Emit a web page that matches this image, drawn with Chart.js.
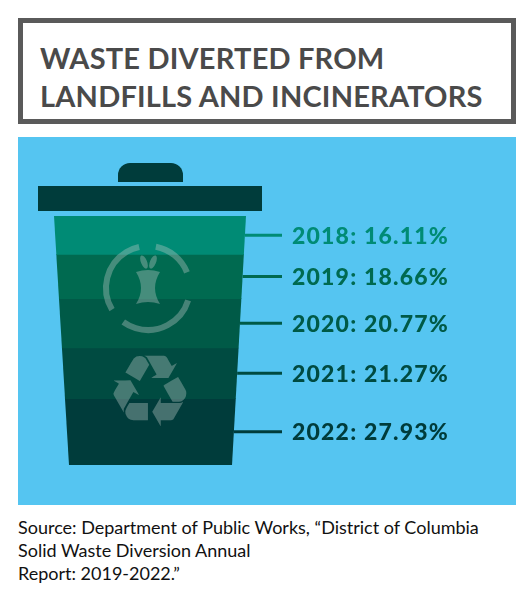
<!DOCTYPE html>
<html><head><meta charset="utf-8">
<script src="https://cdn.jsdelivr.net/npm/chart.js@4"></script>
<style>
html,body{margin:0;padding:0;background:#fff;width:529px;height:600px;overflow:hidden;font-family:Lato,sans-serif}
#title{position:absolute;left:18px;top:18px;width:488px;height:96px;border:5px solid #5a5a5a;}
#title div{position:absolute;left:17px;top:16px;font:700 29px Lato;color:#4a4a4a;line-height:38px;letter-spacing:0.2px}
#panel{position:absolute;left:18px;top:137px;width:498px;height:368px;background:#55c5f1}
#src{position:absolute;left:18px;top:516px;font:400 18px Lato;color:#111;line-height:23px}
canvas{position:absolute;left:0;top:0}
</style></head><body>
<div id="title"><div>WASTE DIVERTED FROM<br>LANDFILLS AND INCINERATORS</div></div>
<div id="panel"></div>
<div id="src">Source: Department of Public Works, “District of Columbia<br>Solid Waste Diversion Annual<br>Report: 2019-2022.”</div>
<canvas id="c" width="529" height="600"></canvas>
<script>
const years = ['2018','2019','2020','2021','2022'];
const rates = [16.11, 18.66, 20.77, 21.27, 27.93];
const colors = ['#008b75','#006a50','#005a47','#004b41','#003c3b'];
const total = rates.reduce((a,b)=>a+b,0);

const can = {
  id:'can',
  beforeDatasetsDraw(ch){
    const c=ch.ctx, a=ch.chartArea;
    c.save();
    c.fillStyle='#003c3b';
    c.beginPath(); c.moveTo(118,182); c.lineTo(118,175); c.arcTo(118,163,130,163,12); c.lineTo(171,163); c.arcTo(183,163,183,175,12); c.lineTo(183,182); c.closePath(); c.fill();
    c.fillRect(38,186,224,25);
    c.beginPath(); c.moveTo(a.left,a.top); c.lineTo(a.right,a.top); c.lineTo(a.right-14,a.bottom); c.lineTo(a.left+15,a.bottom); c.closePath(); c.clip();
  },
  afterDatasetsDraw(ch){
    const c=ch.ctx, a=ch.chartArea;
    c.restore();
    c.save();
    c.globalAlpha=0.38; c.strokeStyle='#b9c9c4'; c.fillStyle='#b9c9c4';
    c.lineWidth=6;
    c.beginPath(); c.arc(148,288,42,0.3,2.2); c.stroke();
    c.beginPath(); c.arc(148,288,42,2.6,4.5); c.stroke();
    c.beginPath(); c.arc(148,288,42,4.9,5.9); c.stroke();
    // apple core
    c.beginPath();
    c.moveTo(136,272); c.quadraticCurveTo(148,268,160,272);
    c.quadraticCurveTo(150,288,160,304); c.quadraticCurveTo(148,300,136,304);
    c.quadraticCurveTo(146,288,136,272); c.fill();
    c.beginPath(); c.ellipse(144,262,3,7,-0.4,0,Math.PI*2); c.fill();
    c.beginPath(); c.ellipse(153,262,3,7,0.4,0,Math.PI*2); c.fill();
    c.font='100px "DejaVu Sans"'; c.textAlign='center'; c.textBaseline='middle';
    c.fillText('♻',150,400);
    c.globalAlpha=1;
    ch.data.datasets.forEach((ds,i)=>{
      const bar=ch.getDatasetMeta(i).data[0];
      const y=(bar.y+bar.base)/2;
      const t=(y-a.top)/(a.bottom-a.top);
      const xr=a.right-14*t;
      c.strokeStyle=colors[i]; c.lineWidth=3;
      c.beginPath(); c.moveTo(xr,y); c.lineTo(282,y); c.stroke();
      c.fillStyle=colors[i]; c.font='900 23px Lato'; c.textAlign='left'; c.textBaseline='middle';
      c.letterSpacing='1.2px';
      c.fillText(years[i]+': '+rates[i].toFixed(2)+'%',292,y+1);
    });
    c.restore();
  }
};

new Chart(document.getElementById('c'),{
  type:'bar',
  data:{labels:['can'],datasets:years.map((y,i)=>({label:y,data:[rates[i]],backgroundColor:colors[i],borderWidth:0,categoryPercentage:1,barPercentage:1}))},
  options:{responsive:false,animation:false,
    layout:{padding:{left:54,right:283,top:216,bottom:135}},
    plugins:{legend:{display:false},tooltip:{enabled:false}},
    scales:{x:{stacked:true,display:false},y:{stacked:true,display:false,reverse:true,min:0,max:total}}},
  plugins:[can]
});
</script></body></html>
